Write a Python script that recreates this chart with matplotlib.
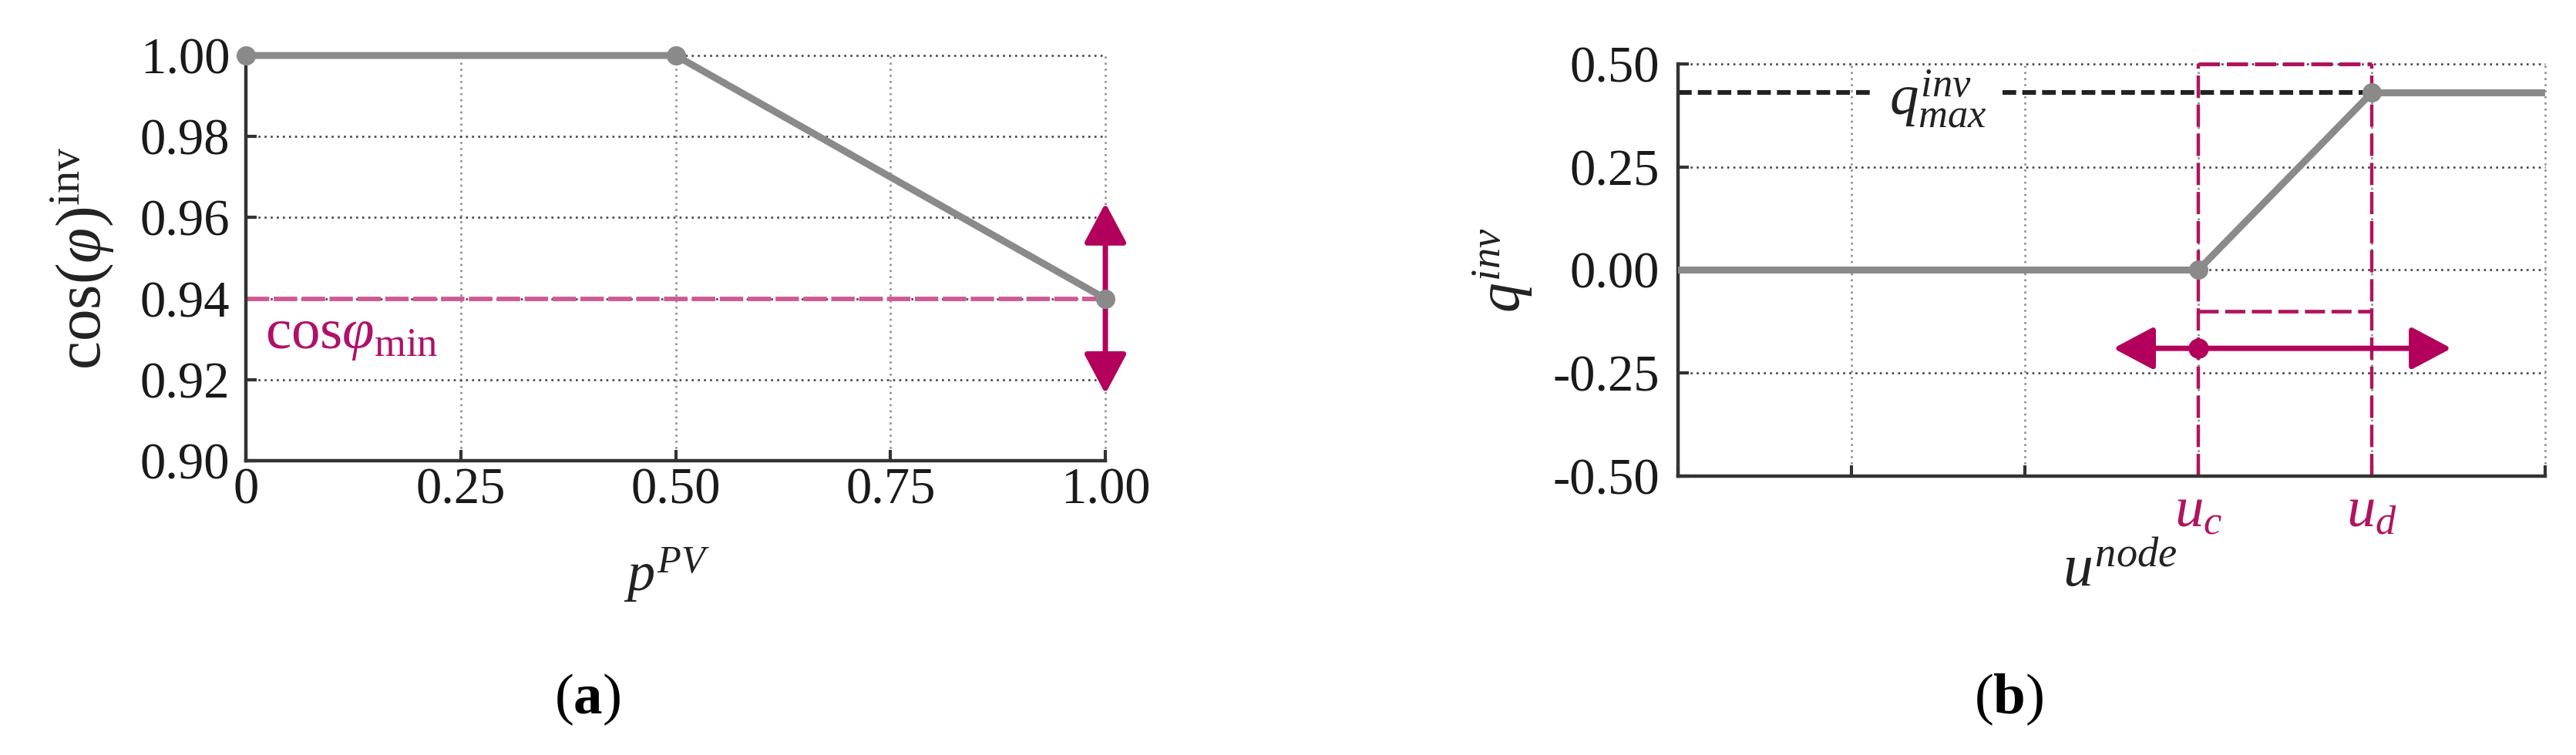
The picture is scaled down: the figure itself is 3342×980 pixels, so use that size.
import matplotlib
matplotlib.use("Agg")
import matplotlib.pyplot as plt
from matplotlib.patches import ArrowStyle

plt.rcParams['font.family'] = ['Liberation Serif', 'DejaVu Serif']
plt.rcParams['mathtext.fontset'] = 'custom'
plt.rcParams['mathtext.rm'] = 'Liberation Serif'
plt.rcParams['mathtext.it'] = 'Liberation Serif:italic'
plt.rcParams['mathtext.bf'] = 'Liberation Serif:bold'
plt.rcParams['axes.unicode_minus'] = False

# ---------------- data: panel (a) ----------------
pv_x = [0.0, 0.5, 1.0]
pv_cos = [1.0, 1.0, 0.94]
cos_min = 0.94
cos_arrow = [0.9165, 0.9636]
a_xticks = [0.0, 0.25, 0.5, 0.75, 1.0]
a_xticklabels = ["0", "0.25", "0.50", "0.75", "1.00"]
a_yticks = [0.90, 0.92, 0.94, 0.96, 0.98, 1.00]
a_yticklabels = ["0.90", "0.92", "0.94", "0.96", "0.98", "1.00"]

# ---------------- data: panel (b) ----------------
u_x = [0, 3, 4, 5]
q_y = [0.0, 0.0, 0.43, 0.43]
u_c, u_d = 3, 4
q_max = 0.43
q_gap = [1.13, 1.87]          # gap in dashed q_max line where the label sits
band_top = 0.50
band_low = -0.10
u_arrow_y = -0.19
u_arrow_x = [2.51, 4.46]
b_xticks = [0, 1, 2, 3, 4, 5]
b_xticklabels = ["", "", "", r"$u_c$", r"$u_d$", ""]
b_yticks = [-0.50, -0.25, 0.0, 0.25, 0.50]
b_yticklabels = ["-0.50", "-0.25", "0.00", "0.25", "0.50"]

GRAY = '#8a8a8a'
MAG = '#b3005c'
PINK_A = '#cf5a93'
PINK_B = '#b0145e'
DARK = '#333333'
TICK_FS = 48
LABEL_FS = 52

fig = plt.figure(figsize=(33.42, 9.8), dpi=100)


def style_axes(ax):
    for s in ['top', 'right']:
        ax.spines[s].set_visible(False)
    for s in ['left', 'bottom']:
        ax.spines[s].set_color(DARK)
        ax.spines[s].set_linewidth(3.2)
        ax.spines[s].set_zorder(5)
    ax.tick_params(direction='in', length=10, width=3, color=DARK,
                   labelsize=TICK_FS, labelcolor='#1a1a1a')
    ax.grid(axis='y', color='#444444', ls=(0, (1, 2.0)), lw=1.9, zorder=0)
    ax.grid(axis='x', color='#8f8f8f', ls=(0, (1, 2.0)), lw=1.9, zorder=0)
    ax.set_axisbelow(True)
    for gl in ax.get_xgridlines() + ax.get_ygridlines():
        gl.set_clip_on(False)


# ---------------- panel (a) ----------------
ax1 = fig.add_axes([0.0955, 0.3898, 0.3336, 0.5367])
style_axes(ax1)
ax1.set_xlim(0, 1.0)
ax1.set_ylim(0.90, 1.00)
ax1.set_xticks(a_xticks)
ax1.set_xticklabels(a_xticklabels)
ax1.set_yticks(a_yticks)
ax1.set_yticklabels(a_yticklabels)
ax1.tick_params(axis='y', pad=15)
ax1.tick_params(axis='x', pad=6)

ax1.axhline(cos_min, color=PINK_A, lw=4.2, dashes=(5.2, 1.0), zorder=2)
ax1.annotate('', xy=(1.0, cos_arrow[1]), xytext=(1.0, cos_arrow[0]),
             arrowprops=dict(arrowstyle=ArrowStyle('<|-|>', head_length=32, head_width=17),
                             color=MAG, lw=5, shrinkA=0, shrinkB=0,
                             mutation_scale=1),
             annotation_clip=False, zorder=3)
ax1.plot(pv_x, pv_cos, color=GRAY, lw=6.5, marker='o', ms=17,
         solid_capstyle='butt', clip_on=False, zorder=6)
ax1.text(0.022, 0.9372, r'$\mathrm{cos}\varphi_{\mathrm{min}}$', color='#b0106a',
         fontsize=54, ha='left', va='top')

fig.text(107 / 3342, 1 - 335 / 980, r'$\mathrm{cos}(\varphi)^{\mathrm{inv}}$',
         rotation=90, ha='center', va='center', fontsize=60, color='#222222')
fig.text(865 / 3342, 1 - 746 / 980, r'$p^{PV}$', ha='center', va='center',
         fontsize=LABEL_FS, color='#222222')
fig.text(762 / 3342, 1 - 908 / 980, r'$(\mathbf{a})$', ha='center', va='center',
         fontsize=54, color='black')

# ---------------- panel (b) ----------------
ax2 = fig.add_axes([0.6514, 0.3694, 0.3366, 0.5459])
style_axes(ax2)
ax2.set_xlim(0, 5)
ax2.set_ylim(-0.5, 0.5)
ax2.set_xticks(b_xticks)
ax2.set_xticklabels(b_xticklabels)
ax2.set_yticks(b_yticks)
ax2.set_yticklabels(b_yticklabels)
ax2.tick_params(axis='y', pad=17)
ax2.tick_params(axis='x', pad=10)
for lbl in ax2.get_xticklabels():
    lbl.set_color(PINK_B)
    lbl.set_fontsize(54)

# pink dashed band
for xv in (u_c, u_d):
    ax2.plot([xv, xv], [-0.5, band_top], color=PINK_B, lw=3.2, dashes=(6.5, 2.0),
             clip_on=False, zorder=3)
ax2.plot([u_c, u_d], [band_top, band_top], color=PINK_B, lw=3.6, dashes=(5.5, 1.8),
         clip_on=False, zorder=3)
ax2.plot([u_c, u_d], [band_low, band_low], color=PINK_B, lw=3.4, dashes=(5.5, 1.8),
         zorder=3)

# q_max dashed line (with gap for label)
ax2.plot([0, q_gap[0]], [q_max, q_max], color='#222222', lw=4.4, dashes=(2.9, 1.3), zorder=3)
ax2.plot([q_gap[1], u_d], [q_max, q_max], color='#222222', lw=4.4, dashes=(2.9, 1.3), zorder=3)
ax2.text((q_gap[0] + q_gap[1]) / 2, q_max - 0.015, r'$q^{inv}_{max}$', fontsize=54,
         ha='center', va='center', color='#222222')

# double arrow
ax2.annotate('', xy=(u_arrow_x[0], u_arrow_y), xytext=(u_arrow_x[1], u_arrow_y),
             arrowprops=dict(arrowstyle=ArrowStyle('<|-|>', head_length=32, head_width=17),
                             color=MAG, lw=5, shrinkA=0, shrinkB=0,
                             mutation_scale=1), zorder=4)
ax2.plot([u_c], [u_arrow_y], 'o', color=MAG, ms=18, zorder=5)

# characteristic
ax2.plot(u_x, q_y, color=GRAY, lw=6.5, solid_capstyle='butt', clip_on=False, zorder=6)
ax2.plot(u_x[1:3], q_y[1:3], 'o', color=GRAY, ms=17, zorder=7)

fig.text(1950 / 3342, 1 - 351 / 980, r'$q^{inv}$', rotation=90, ha='center', va='center',
         fontsize=56, color='#222222')
fig.text(2750 / 3342, 1 - 742 / 980, r'$u^{node}$', ha='center', va='center',
         fontsize=56, color='#222222')
fig.text(2606 / 3342, 1 - 908 / 980, r'$(\mathbf{b})$', ha='center', va='center',
         fontsize=54, color='black')

fig.savefig('out.png', dpi=100, facecolor='white')
